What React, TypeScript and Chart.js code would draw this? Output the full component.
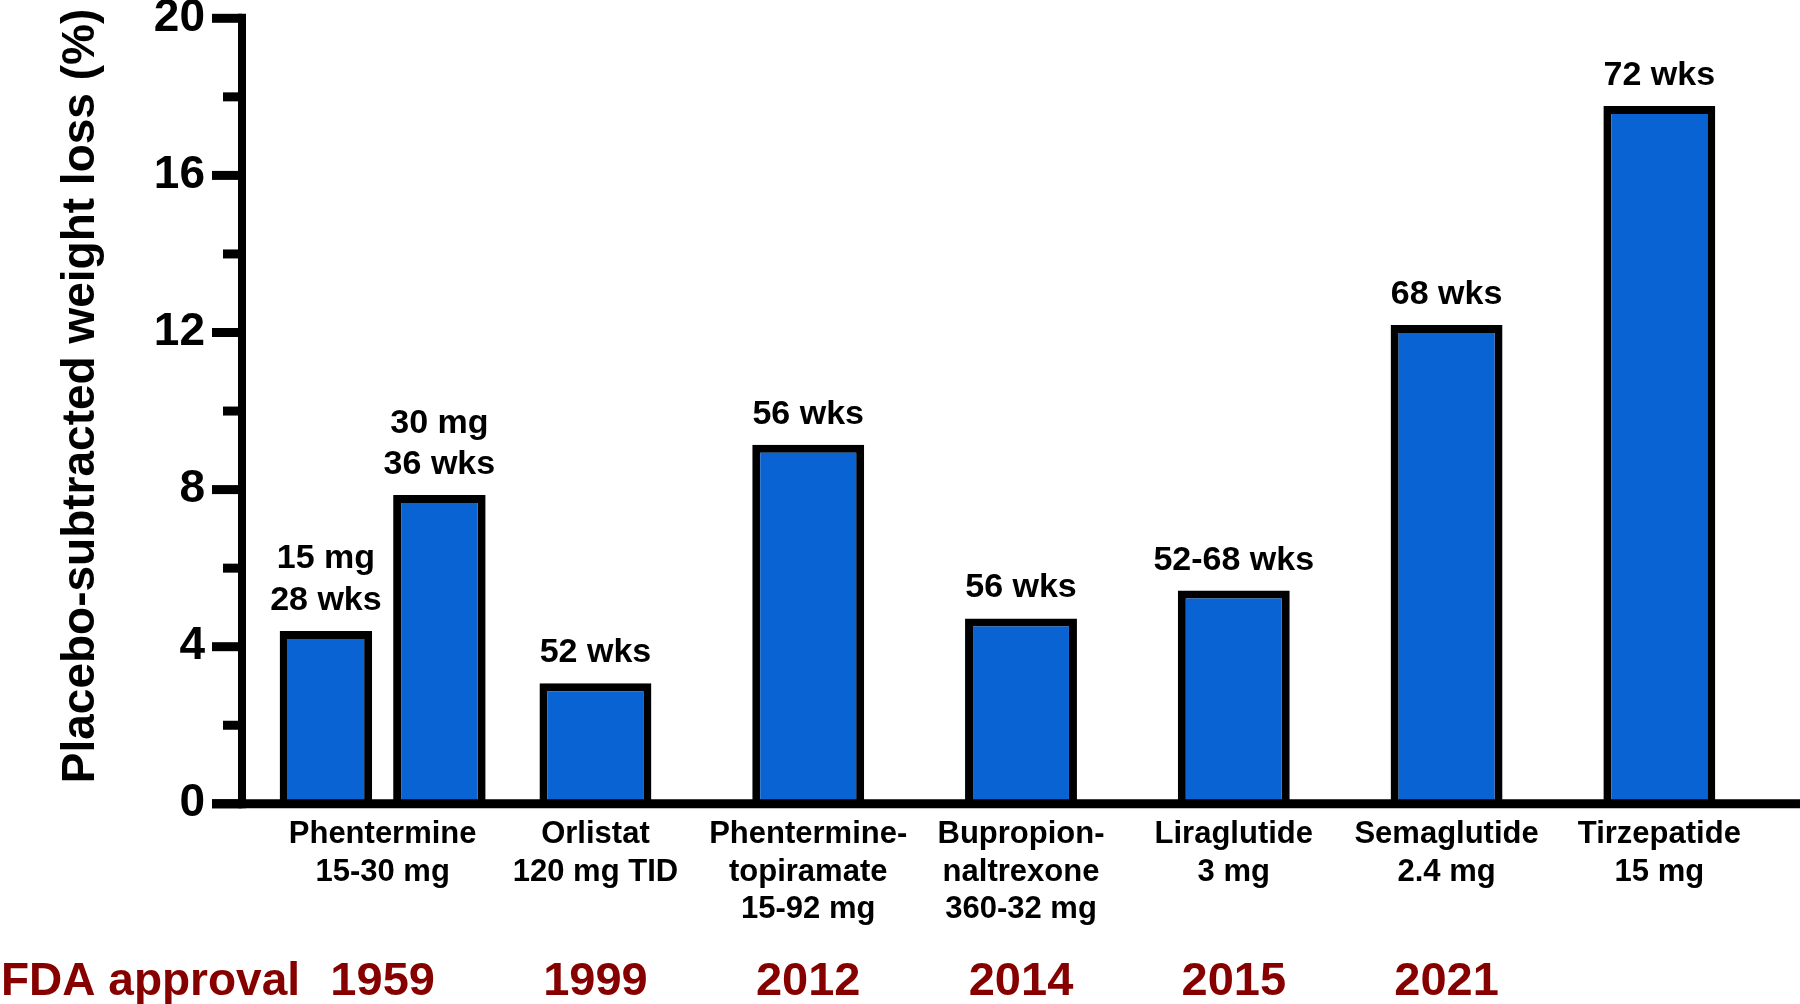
import React, { useEffect, useRef } from 'react';
import { Chart, registerables } from 'chart.js';

Chart.register(...registerables);

// ---------- data ----------
const categories: string[][] = [
  ['Phentermine', '15-30 mg'],
  ['Orlistat', '120 mg TID'],
  ['Phentermine-', 'topiramate', '15-92 mg'],
  ['Bupropion-', 'naltrexone', '360-32 mg'],
  ['Liraglutide', '3 mg'],
  ['Semaglutide', '2.4 mg'],
  ['Tirzepatide', '15 mg'],
];
const fdaYears = ['1959', '1999', '2012', '2014', '2015', '2021', ''];

// placebo-subtracted weight loss (%)
const phentermine15mg = [4.4, null, null, null, null, null, null];
const phentermine30mg = [7.86, null, null, null, null, null, null];
const singleDrugLoss = [null, 3.07, 9.14, 4.72, 5.43, 12.19, 17.77];

const phentermine15Note = ['15 mg', '28 wks'];
const phentermine30Note = ['30 mg', '36 wks'];
const trialDurations = ['', '52 wks', '56 wks', '56 wks', '52-68 wks', '68 wks', '72 wks'];

const yMin = 0;
const yMax = 20;
const yMinorStep = 2;
const yMajorStep = 4;
const yTitle = 'Placebo-subtracted weight loss (%)';
const fdaLabel = 'FDA approval';

// ---------- style ----------
const FONT = "'Liberation Sans', Arial, Helvetica, sans-serif";
const BAR_FILL = '#0A63D2';
const DARK_RED = '#860000';

const toPoints = (vals: (number | null)[]) => vals.map((v, i) => ({ x: i, y: v }));

const notesFor: ((i: number) => string[] | null)[] = [
  (i) => (trialDurations[i] ? [trialDurations[i]] : null),
  (i) => (i === 0 ? phentermine15Note : null),
  (i) => (i === 0 ? phentermine30Note : null),
];

const overlayPlugin = {
  id: 'overlay',
  afterDatasetsDraw(chart: any) {
    const { ctx, chartArea, scales } = chart;
    const y = scales.y;
    const left = chartArea.left;
    const zeroY = y.getPixelForValue(0);
    const topY = y.getPixelForValue(yMax);
    ctx.save();
    ctx.strokeStyle = '#000';
    ctx.lineCap = 'butt';
    // y axis line
    ctx.lineWidth = 8;
    ctx.beginPath();
    ctx.moveTo(left, topY - 4.5);
    ctx.lineTo(left, zeroY + 4.5);
    ctx.stroke();
    // ticks
    ctx.lineWidth = 9;
    for (let v = yMin; v <= yMax; v += yMinorStep) {
      const major = v % yMajorStep === 0;
      const py = y.getPixelForValue(v);
      ctx.beginPath();
      ctx.moveTo(left - (major ? 30 : 19), py);
      ctx.lineTo(left, py);
      ctx.stroke();
    }
    // x axis line
    ctx.lineWidth = 9;
    ctx.beginPath();
    ctx.moveTo(left - 30, zeroY);
    ctx.lineTo(chart.width, zeroY);
    ctx.stroke();
    ctx.restore();
  },
  afterDraw(chart: any) {
    const { ctx, scales } = chart;
    const x = scales.x;
    ctx.save();
    // annotations above bars
    ctx.fillStyle = '#000';
    ctx.font = `bold 34px ${FONT}`;
    ctx.textAlign = 'center';
    ctx.textBaseline = 'alphabetic';
    chart.data.datasets.forEach((ds: any, di: number) => {
      const meta = chart.getDatasetMeta(di);
      ds.data.forEach((pt: any, i: number) => {
        if (pt.y === null || pt.y === undefined) return;
        const lines = notesFor[di](i);
        if (!lines) return;
        const bar = meta.data[i];
        const n = lines.length;
        lines.forEach((t: string, li: number) => {
          ctx.fillText(t, bar.x, bar.y - 21 - (n - 1 - li) * 41.5);
        });
      });
    });
    // y axis title
    ctx.save();
    ctx.translate(93.5, 396);
    ctx.rotate(-Math.PI / 2);
    ctx.font = `bold 46px ${FONT}`;
    ctx.textAlign = 'center';
    ctx.textBaseline = 'alphabetic';
    ctx.fillText(yTitle, 0, 0);
    ctx.restore();
    // FDA approval row
    ctx.fillStyle = DARK_RED;
    ctx.font = `bold 46px ${FONT}`;
    ctx.textAlign = 'left';
    ctx.fillText(fdaLabel, 1, 995);
    ctx.font = `bold 47px ${FONT}`;
    ctx.textAlign = 'center';
    fdaYears.forEach((yr, i) => {
      if (!yr) return;
      ctx.fillText(yr, x.getPixelForValue(i), 995);
    });
    ctx.restore();
  },
};

export default function App() {
  const ref = useRef<HTMLCanvasElement | null>(null);
  useEffect(() => {
    if (!ref.current) return;
    const chart = new Chart(ref.current, {
      type: 'bar',
      data: {
        datasets: [
          {
            label: 'Single dose',
            data: toPoints(singleDrugLoss) as any,
            backgroundColor: BAR_FILL,
            borderColor: '#000',
            borderWidth: 8,
            borderSkipped: 'start',
            skipNull: true,
            categoryPercentage: 1,
            barPercentage: 0.526,
          },
          {
            label: 'Phentermine 15 mg',
            data: toPoints(phentermine15mg) as any,
            backgroundColor: BAR_FILL,
            borderColor: '#000',
            borderWidth: 8,
            borderSkipped: 'start',
            skipNull: true,
            categoryPercentage: 1.0666,
            barPercentage: 0.815,
          },
          {
            label: 'Phentermine 30 mg',
            data: toPoints(phentermine30mg) as any,
            backgroundColor: BAR_FILL,
            borderColor: '#000',
            borderWidth: 8,
            borderSkipped: 'start',
            skipNull: true,
            categoryPercentage: 1.0666,
            barPercentage: 0.815,
          },
        ],
      },
      options: {
        responsive: false,
        animation: false,
        devicePixelRatio: 1,
        layout: { padding: { top: 18.3, left: 0, right: 0, bottom: 0 } },
        plugins: { legend: { display: false }, tooltip: { enabled: false }, title: { display: false } },
        scales: {
          x: {
            type: 'linear',
            min: -0.661,
            max: 6.661,
            offset: false,
            grid: { display: false, drawTicks: false },
            border: { display: false },
            ticks: {
              stepSize: 1,
              includeBounds: false,
              autoSkip: false,
              maxRotation: 0,
              minRotation: 0,
              padding: 12,
              color: '#000',
              font: { family: FONT, size: 31, weight: 'bold', lineHeight: 1.21 },
              callback: (v: any) => {
                const n = Number(v);
                return Number.isInteger(n) && n >= 0 && n < categories.length ? categories[n] : '';
              },
            },
            afterFit: (s: any) => {
              s.height = 1004 - 803.8;
              s.paddingLeft = 0;
              s.paddingRight = 0;
            },
          },
          y: {
            type: 'linear',
            min: yMin,
            max: yMax,
            grid: { display: false, drawTicks: false },
            border: { display: false },
            ticks: {
              stepSize: yMinorStep,
              padding: 37,
              color: '#000',
              font: { family: FONT, size: 46, weight: 'bold' },
              callback: (v: any) => (Number(v) % yMajorStep === 0 ? String(v) : ''),
            },
            afterFit: (s: any) => {
              s.width = 242;
              s.paddingTop = 0;
              s.paddingBottom = 0;
            },
          },
        },
      } as any,
      plugins: [overlayPlugin],
    });
    return () => chart.destroy();
  }, []);
  return (
    <div style={{ position: 'absolute', left: 0, top: 0, width: 1800, height: 1004, background: '#fff' }}>
      <canvas ref={ref} width={1800} height={1004} style={{ display: 'block' }} />
    </div>
  );
}
